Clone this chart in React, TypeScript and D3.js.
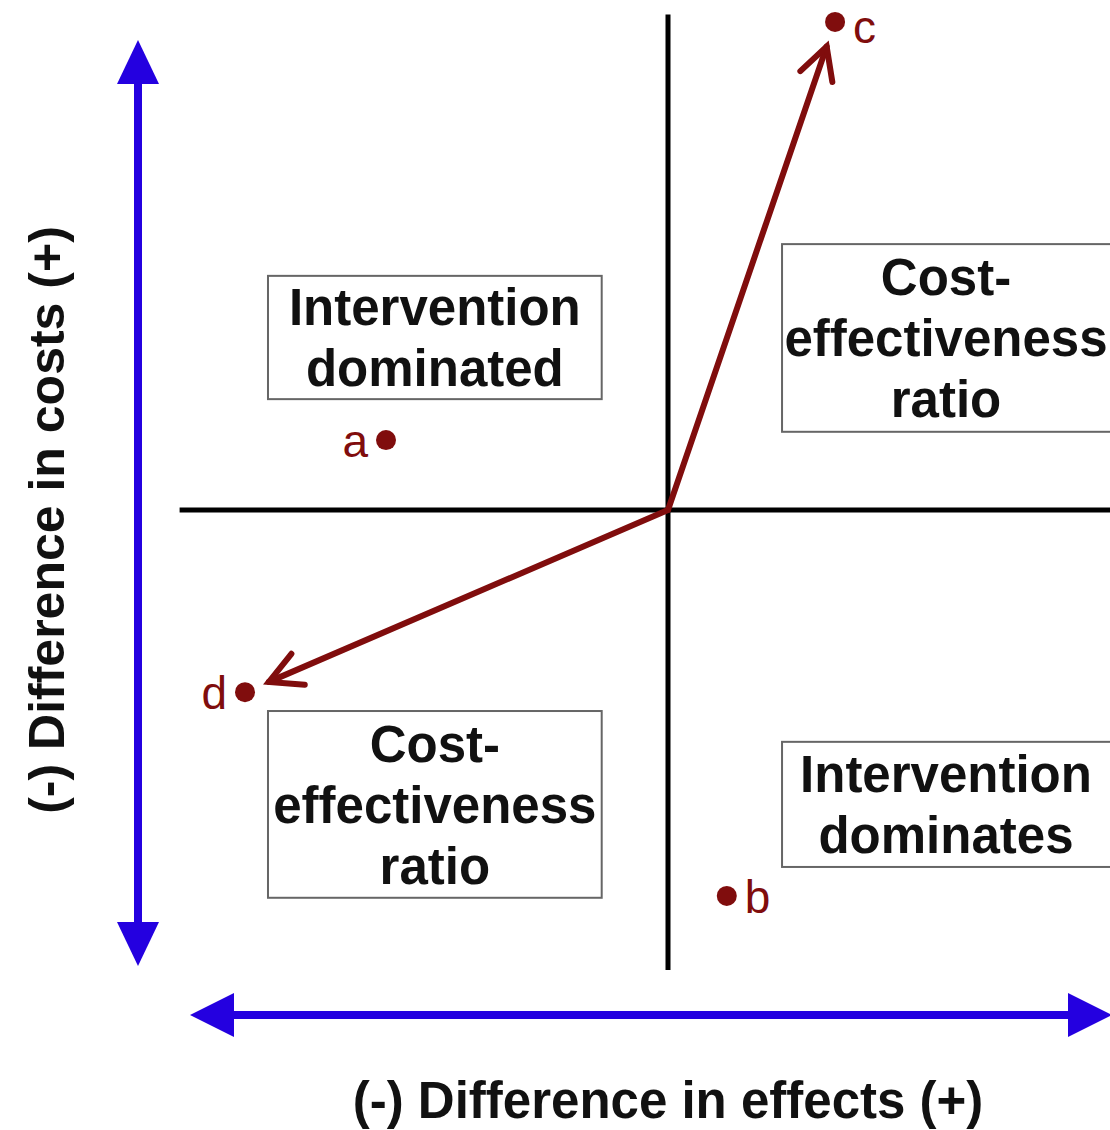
import React from "react";
import { scaleLinear } from "d3";

const WIDTH = 1110;
const HEIGHT = 1130;

// points on the cost-effectiveness plane (effects, costs)
const points = [
  { label: "a", x: -0.638, y: 0.152, side: "left" },
  { label: "b", x: 0.133, y: -0.839, side: "right" },
  { label: "c", x: 0.378, y: 1.061, side: "right" },
  { label: "d", x: -0.957, y: -0.396, side: "left" },
];

// arrows from the origin to these points
const arrowTargets = ["c", "d"];

// quadrant boxes: [x0, x1, y0, y1] in data units, and text lines
const boxes = [
  { lines: ["Intervention", "dominated"], x0: -0.905, x1: -0.15, y0: 0.509, y1: 0.241 },
  { lines: ["Cost-", "effectiveness", "ratio"], x0: 0.258, x1: 1.02, y0: 0.578, y1: 0.17 },
  { lines: ["Cost-", "effectiveness", "ratio"], x0: -0.905, x1: -0.15, y0: -0.437, y1: -0.843 },
  { lines: ["Intervention", "dominates"], x0: 0.258, x1: 1.02, y0: -0.504, y1: -0.776 },
];

const xLabel = "(-) Difference in effects (+)";
const yLabel = "(-) Difference in costs (+)";

const RED = "#800d0d";
const BLUE = "#2400e0";
const FONT = "'Liberation Sans', Arial, sans-serif";

export default function App() {
  const x = scaleLinear().domain([-1, 1]).range([226, 1110]);
  const y = scaleLinear().domain([-1, 1]).range([970, 50]);

  const x0 = x(0);
  const y0 = y(0);

  const redArrows = arrowTargets.map((lab) => {
    const p = points.find((d) => d.label === lab)!;
    const px = x(p.x);
    const py = y(p.y);
    const dx = px - x0;
    const dy = py - y0;
    const len = Math.sqrt(dx * dx + dy * dy);
    const ux = dx / len;
    const uy = dy / len;
    const tx = px - ux * 26;
    const ty = py - uy * 26;
    const ang = Math.atan2(uy, ux);
    const hl = 36;
    const spread = (28 * Math.PI) / 180;
    const h1 = [tx - hl * Math.cos(ang - spread), ty - hl * Math.sin(ang - spread)];
    const h2 = [tx - hl * Math.cos(ang + spread), ty - hl * Math.sin(ang + spread)];
    return { lab, tx, ty, h1, h2 };
  });

  const lineH = 61;

  return (
    <svg
      width={WIDTH}
      height={HEIGHT}
      style={{ position: "absolute", left: 0, top: 0, background: "#fff" }}
    >
      {/* quadrant axes */}
      <line x1={x0} x2={x0} y1={y(1.077)} y2={y(-1)} stroke="#000" strokeWidth={5} />
      <line x1={x(-1.105)} x2={x(1)} y1={y0} y2={y0} stroke="#000" strokeWidth={5} />

      {/* boxes */}
      {boxes.map((b, i) => {
        const bx = x(b.x0);
        const bw = x(b.x1) - bx;
        const by = y(b.y0);
        const bh = y(b.y1) - by;
        const cx = bx + bw / 2;
        const cy = by + bh / 2;
        const startY = cy - ((b.lines.length - 1) * lineH) / 2;
        return (
          <g key={i}>
            <rect x={bx} y={by} width={bw} height={bh} fill="#fff" stroke="#666" strokeWidth={2} />
            {b.lines.map((t, j) => (
              <text
                key={j}
                x={i % 2 === 1 ? Math.min(cx, 946) : cx}
                y={startY + j * lineH}
                dy="0.36em"
                textAnchor="middle"
                fontFamily={FONT}
                fontWeight="bold"
                fontSize={51}
                fill="#111"
              >
                {t}
              </text>
            ))}
          </g>
        );
      })}

      {/* red arrows */}
      {redArrows.map((a) => (
        <g key={a.lab} stroke={RED} strokeWidth={6} strokeLinecap="round" fill="none">
          <line x1={x0} y1={y0} x2={a.tx} y2={a.ty} />
          <polyline points={`${a.h1[0]},${a.h1[1]} ${a.tx},${a.ty} ${a.h2[0]},${a.h2[1]}`} strokeLinejoin="miter" />
        </g>
      ))}

      {/* points */}
      {points.map((p) => (
        <g key={p.label}>
          <circle cx={x(p.x)} cy={y(p.y)} r={10} fill={RED} />
          <text
            x={x(p.x) + (p.side === "right" ? 18 : -18)}
            y={Math.max(y(p.y), 26)}
            dy="0.36em"
            textAnchor={p.side === "right" ? "start" : "end"}
            fontFamily={FONT}
            fontSize={46}
            fill={RED}
          >
            {p.label}
          </text>
        </g>
      ))}

      {/* blue axis arrows */}
      <line x1={138} x2={138} y1={80} y2={928} stroke={BLUE} strokeWidth={8} />
      <polygon points="138,40 117,84 159,84" fill={BLUE} />
      <polygon points="138,966 117,922 159,922" fill={BLUE} />
      <line x1={230} x2={1070} y1={1015} y2={1015} stroke={BLUE} strokeWidth={8} />
      <polygon points="190,1015 234,993 234,1037" fill={BLUE} />
      <polygon points="1112,1015 1068,993 1068,1037" fill={BLUE} />

      {/* axis labels */}
      <text
        x={668}
        y={1100}
        dy="0.36em"
        textAnchor="middle"
        fontFamily={FONT}
        fontWeight="bold"
        fontSize={51}
        fill="#111"
      >
        {xLabel}
      </text>
      <text
        transform={`translate(46, 520) rotate(-90)`}
        dy="0.36em"
        textAnchor="middle"
        fontFamily={FONT}
        fontWeight="bold"
        fontSize={50}
        fill="#111"
      >
        {yLabel}
      </text>
    </svg>
  );
}
